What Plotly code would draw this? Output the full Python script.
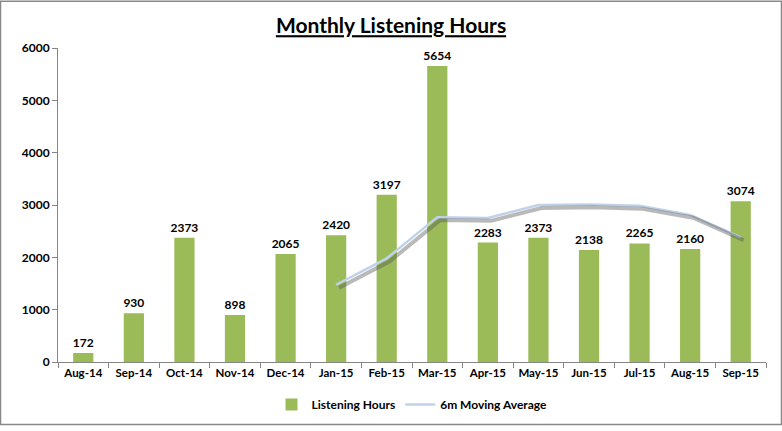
import plotly.graph_objects as go

months = ["Aug-14", "Sep-14", "Oct-14", "Nov-14", "Dec-14", "Jan-15", "Feb-15",
          "Mar-15", "Apr-15", "May-15", "Jun-15", "Jul-15", "Aug-15", "Sep-15"]
hours = [172, 930, 2373, 898, 2065, 2420, 3197, 5654, 2283, 2373, 2138, 2265, 2160, 3074]
ma_months = months[5:]
moving_avg = [1476, 1981, 2768, 2753, 2999, 3011, 2985, 2812, 2382]

font = "Lato, 'Open Sans', sans-serif"

fig = go.Figure()
fig.add_trace(go.Bar(x=months, y=hours, name="Listening Hours",
                     marker=dict(color="#9BBB59", line=dict(width=0)),
                     text=hours, textposition="outside", cliponaxis=False,
                     constraintext="none",
                     textfont=dict(size=12, color="black", family=font, weight="bold")))
# shadow under the line, on slightly shifted axes
fig.add_trace(go.Scatter(x=ma_months, y=moving_avg, mode="lines", showlegend=False,
                         xaxis="x2", yaxis="y2", hoverinfo="skip",
                         line=dict(color="rgba(80,80,80,0.4)", width=4)))
fig.add_trace(go.Scatter(x=ma_months, y=moving_avg, mode="lines", name="6m Moving Average",
                         line=dict(color="#C0D2E8", width=2.5)))

fig.update_layout(
    width=782, height=431,
    margin=dict(l=58, r=16, t=48, b=64),
    paper_bgcolor="white", plot_bgcolor="white",
    font=dict(family=font, size=12, color="black", weight="bold"),
    title=dict(text="<b><u>Monthly Listening Hours</u></b>", x=0.5, xanchor="center",
               y=0.94, yanchor="middle", font=dict(size=21, family=font)),
    bargap=0.6,
    xaxis=dict(type="category", showline=True, linecolor="#868686", ticks="outside",
               tickson="boundaries", ticklen=5, tickcolor="#868686", tickangle=0,
               tickfont=dict(size=11.5, family=font, weight="bold"), showgrid=False,
               range=[-0.5, 13.5]),
    yaxis=dict(range=[0, 6000], dtick=1000, showline=True, linecolor="#868686",
               ticks="outside", ticklen=5, tickcolor="#868686", showgrid=False,
               zeroline=False, tickfont=dict(size=12, family=font, weight="bold")),
    xaxis2=dict(type="category", categoryarray=months, categoryorder="array",
                overlaying="x", range=[-0.56, 13.44], visible=False),
    yaxis2=dict(range=[56, 6056], overlaying="y", visible=False),
    legend=dict(orientation="h", x=0.5, xanchor="center", y=-0.135, yanchor="middle",
                font=dict(size=12, family=font, weight="bold"), traceorder="normal"),
    shapes=[dict(type="rect", xref="paper", yref="paper", x0=-57.5/708, x1=1 + 15.5/708,
                 y0=-63.5/319, y1=1 + 47.5/319, line=dict(color="#888888", width=1.5))],
)

fig.write_html("out.html", config={"displayModeBar": False},
               post_script="document.body.style.margin='0';")
